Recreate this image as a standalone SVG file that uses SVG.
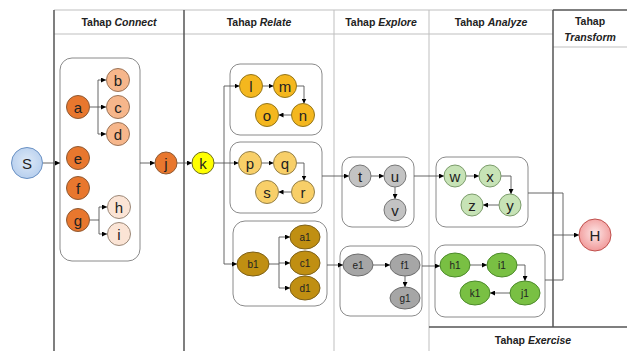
<svg xmlns="http://www.w3.org/2000/svg" width="627" height="351" viewBox="0 0 627 351">
<defs>
<marker id="ah" viewBox="0 0 6 6" refX="6" refY="3" markerWidth="5" markerHeight="5" markerUnits="userSpaceOnUse" orient="auto"><path d="M0,0 L6,3 L0,6 z" fill="#000"/></marker>
<radialGradient id="gH" cx="50%" cy="45%" r="55%"><stop offset="0" stop-color="#fde6e6"/><stop offset="1" stop-color="#f19a9a"/></radialGradient>
<radialGradient id="gS" cx="50%" cy="45%" r="55%"><stop offset="0" stop-color="#dde9f7"/><stop offset="1" stop-color="#b7cfee"/></radialGradient>
</defs>
<style>
.hd{font-family:"Liberation Sans",Arial,sans-serif;font-size:10.5px;font-weight:bold;fill:#222;text-anchor:middle}
.it{font-style:italic}
.grid{stroke:#bfbfbf;stroke-width:1;fill:none}
.gridd{stroke:#555;stroke-width:1.5;fill:none}
.box{fill:#fff;stroke:#8a8a8a;stroke-width:1}
.cn{fill:none;stroke:#555;stroke-width:0.9}
.ca{fill:none;stroke:#555;stroke-width:0.9;marker-end:url(#ah)}
.lt{font-family:"Liberation Sans",Arial,sans-serif;font-size:15px;fill:#222;text-anchor:middle;dominant-baseline:central}
.st{font-family:"Liberation Sans",Arial,sans-serif;font-size:10px;fill:#222;text-anchor:middle;dominant-baseline:central}
.o1{fill:#e8772e;stroke:#8e5a34}
.o2{fill:#f6b68b;stroke:#9b7458}
.o3{fill:#fbe4d5;stroke:#9b8878}
.yk{fill:#ffff00;stroke:#6b6b20}
.y1{fill:#f4b71e;stroke:#94761c}
.y2{fill:#f8cf68;stroke:#94804a}
.gd{fill:#c08f12;stroke:#7d6018}
.g1{fill:#c3c3c3;stroke:#777}
.g2{fill:#a6a6a6;stroke:#6c6c6c}
.l1{fill:#c7e3b6;stroke:#7c9c6c}
.l2{fill:#79c043;stroke:#4c8a2a}
</style>

<g id="table">
<line class="grid" x1="54" y1="10" x2="553" y2="10"/>
<line class="gridd" x1="553" y1="10" x2="627" y2="10"/>
<line class="grid" x1="54" y1="34" x2="553" y2="34"/>
<line class="grid" x1="553" y1="47" x2="627" y2="47"/>
<line class="gridd" x1="54" y1="10" x2="54" y2="351"/>
<line class="gridd" x1="184" y1="10" x2="184" y2="351"/>
<line class="grid" x1="334" y1="10" x2="334" y2="351"/>
<line class="grid" x1="429" y1="10" x2="429" y2="351"/>
<line class="gridd" x1="553" y1="10" x2="553" y2="327"/>
<line class="gridd" x1="429" y1="327" x2="627" y2="327"/>
<text class="hd" x="119" y="26">Tahap <tspan class="it">Connect</tspan></text>
<text class="hd" x="259" y="26">Tahap <tspan class="it">Relate</tspan></text>
<text class="hd" x="381" y="26">Tahap <tspan class="it">Explore</tspan></text>
<text class="hd" x="491" y="26">Tahap <tspan class="it">Analyze</tspan></text>
<text class="hd" x="590" y="25">Tahap</text>
<text class="hd it" x="590" y="41">Transform</text>
<text class="hd" x="533" y="344">Tahap <tspan class="it">Exercise</tspan></text>
</g>

<g id="containers">
<rect class="box" x="60" y="58" width="80" height="203" rx="12"/>
<rect class="box" x="230" y="64" width="92" height="71" rx="10"/>
<rect class="box" x="230" y="142" width="92" height="71" rx="10"/>
<rect class="box" x="233" y="221" width="94" height="85" rx="12"/>
<rect class="box" x="342" y="157" width="72" height="70" rx="10"/>
<rect class="box" x="340" y="246" width="82" height="70" rx="10"/>
<rect class="box" x="436" y="157" width="92" height="70" rx="10"/>
<rect class="box" x="435" y="245" width="110" height="72" rx="10"/>
</g>

<g id="connectors">
<line class="ca" x1="43" y1="163" x2="60" y2="163"/>
<path class="cn" d="M90,107 H98 M98,80 V134"/>
<line class="ca" x1="98" y1="80" x2="106" y2="80"/>
<line class="ca" x1="98" y1="107" x2="106" y2="107"/>
<line class="ca" x1="98" y1="134" x2="106" y2="134"/>
<path class="cn" d="M90,220 H99 M99,207 V234"/>
<line class="ca" x1="99" y1="207" x2="107" y2="207"/>
<line class="ca" x1="99" y1="234" x2="107" y2="234"/>
<line class="ca" x1="140" y1="163" x2="155" y2="163"/>
<line class="ca" x1="177" y1="163" x2="192" y2="163"/>
<line class="ca" x1="214" y1="163" x2="238.5" y2="163"/>
<path class="cn" d="M224,86 V264"/>
<line class="ca" x1="224" y1="86" x2="239.5" y2="86"/>
<line class="ca" x1="224" y1="264" x2="237" y2="264"/>
<line class="ca" x1="262.5" y1="86" x2="273.5" y2="86"/>
<path class="ca" d="M296.5,86 H304 V103.5"/>
<line class="ca" x1="291.5" y1="115" x2="278.5" y2="115"/>
<line class="ca" x1="261.5" y1="163" x2="273.5" y2="163"/>
<path class="ca" d="M296.5,163 H304 V180.5"/>
<line class="ca" x1="291.5" y1="192" x2="278.5" y2="192"/>
<path class="cn" d="M269,264 H279 M279,237 V288"/>
<line class="ca" x1="279" y1="237" x2="290" y2="237"/>
<line class="ca" x1="279" y1="263" x2="290" y2="263"/>
<line class="ca" x1="279" y1="288" x2="290" y2="288"/>
<line class="ca" x1="322" y1="176" x2="349" y2="176"/>
<line class="ca" x1="371" y1="176" x2="384" y2="176"/>
<line class="ca" x1="395" y1="187" x2="395" y2="199"/>
<line class="ca" x1="327" y1="265" x2="343" y2="265"/>
<line class="ca" x1="373" y1="265" x2="390" y2="265"/>
<line class="ca" x1="405" y1="276" x2="405" y2="287"/>
<line class="ca" x1="414" y1="176" x2="444" y2="176"/>
<line class="ca" x1="466" y1="176" x2="479" y2="176"/>
<path class="ca" d="M501,176 H511 V194"/>
<line class="ca" x1="499" y1="205" x2="483" y2="205"/>
<line class="ca" x1="422" y1="266" x2="440" y2="266"/>
<line class="ca" x1="470" y1="265" x2="487" y2="265"/>
<path class="ca" d="M517,265 H525 V281"/>
<line class="ca" x1="510" y1="293" x2="490" y2="293"/>
<path class="cn" d="M528,193 H563 V280 H545"/>
<line class="ca" x1="553" y1="235" x2="579" y2="235"/>
</g>

<g id="nS"><circle cx="27" cy="163" r="15.5" fill="url(#gS)" stroke="#6a91c4"/><text class="lt" x="27" y="163" font-size="17">S</text></g>
<g id="na"><circle class="o1" cx="78" cy="107" r="11.5"/><text class="lt" x="78" y="107">a</text></g>
<g id="nb"><circle class="o2" cx="118" cy="80" r="11.5"/><text class="lt" x="118" y="80">b</text></g>
<g id="nc"><circle class="o2" cx="118" cy="107" r="11.5"/><text class="lt" x="118" y="107">c</text></g>
<g id="nd"><circle class="o2" cx="118" cy="134" r="11.5"/><text class="lt" x="118" y="134">d</text></g>
<g id="ne"><circle class="o1" cx="78" cy="158" r="11.5"/><text class="lt" x="78" y="158">e</text></g>
<g id="nf"><circle class="o1" cx="78" cy="188" r="11.5"/><text class="lt" x="78" y="188">f</text></g>
<g id="ng"><circle class="o1" cx="78" cy="220" r="11.5"/><text class="lt" x="78" y="220">g</text></g>
<g id="nh"><circle class="o3" cx="119" cy="207" r="11.5"/><text class="lt" x="119" y="207">h</text></g>
<g id="ni"><circle class="o3" cx="119" cy="234" r="11.5"/><text class="lt" x="119" y="234">i</text></g>
<g id="nj"><circle class="o1" cx="166" cy="163" r="11"/><text class="lt" x="166" y="163">j</text></g>
<g id="nk"><circle class="yk" cx="203" cy="163" r="11"/><text class="lt" x="203" y="163">k</text></g>
<g id="nl"><circle class="y1" cx="251" cy="86" r="11.5"/><text class="lt" x="251" y="86">l</text></g>
<g id="nm"><circle class="y1" cx="285" cy="86" r="11.5"/><text class="lt" x="285" y="86">m</text></g>
<g id="nn"><circle class="y1" cx="303" cy="115" r="11.5"/><text class="lt" x="303" y="115">n</text></g>
<g id="no"><circle class="y1" cx="267" cy="115" r="11.5"/><text class="lt" x="267" y="115">o</text></g>
<g id="np"><circle class="y2" cx="250" cy="163" r="11.5"/><text class="lt" x="250" y="163">p</text></g>
<g id="nq"><circle class="y2" cx="285" cy="163" r="11.5"/><text class="lt" x="285" y="163">q</text></g>
<g id="nr"><circle class="y2" cx="303" cy="192" r="11.5"/><text class="lt" x="303" y="192">r</text></g>
<g id="ns"><circle class="y2" cx="267" cy="192" r="11.5"/><text class="lt" x="267" y="192">s</text></g>
<g id="nb1"><ellipse class="gd" cx="253" cy="264" rx="16" ry="12"/><text class="st" x="253" y="264">b1</text></g>
<g id="na1"><ellipse class="gd" cx="305" cy="237" rx="15" ry="12"/><text class="st" x="305" y="237">a1</text></g>
<g id="nc1"><ellipse class="gd" cx="305" cy="263" rx="15" ry="12"/><text class="st" x="305" y="263">c1</text></g>
<g id="nd1"><ellipse class="gd" cx="305" cy="288" rx="15" ry="12"/><text class="st" x="305" y="288">d1</text></g>
<g id="nt"><circle class="g1" cx="360" cy="176" r="11"/><text class="lt" x="360" y="176">t</text></g>
<g id="nu"><circle class="g1" cx="395" cy="176" r="11"/><text class="lt" x="395" y="176">u</text></g>
<g id="nv"><circle class="g1" cx="395" cy="210" r="11"/><text class="lt" x="395" y="210">v</text></g>
<g id="ne1"><ellipse class="g2" cx="358" cy="265" rx="15" ry="11"/><text class="st" x="358" y="265">e1</text></g>
<g id="nf1"><ellipse class="g2" cx="405" cy="265" rx="15" ry="11"/><text class="st" x="405" y="265">f1</text></g>
<g id="ng1"><ellipse class="g2" cx="405" cy="298" rx="15" ry="11"/><text class="st" x="405" y="298">g1</text></g>
<g id="nw"><circle class="l1" cx="455" cy="176" r="11"/><text class="lt" x="455" y="176">w</text></g>
<g id="nx"><circle class="l1" cx="490" cy="176" r="11"/><text class="lt" x="490" y="176">x</text></g>
<g id="ny"><circle class="l1" cx="510" cy="205" r="11"/><text class="lt" x="510" y="205">y</text></g>
<g id="nz"><circle class="l1" cx="472" cy="205" r="11"/><text class="lt" x="472" y="205">z</text></g>
<g id="nh1"><ellipse class="l2" cx="455" cy="265" rx="15" ry="12"/><text class="st" x="455" y="265">h1</text></g>
<g id="ni1"><ellipse class="l2" cx="502" cy="265" rx="15" ry="12"/><text class="st" x="502" y="265">i1</text></g>
<g id="nj1"><ellipse class="l2" cx="525" cy="293" rx="15" ry="12"/><text class="st" x="525" y="293">j1</text></g>
<g id="nk1"><ellipse class="l2" cx="475" cy="293" rx="15" ry="12"/><text class="st" x="475" y="293">k1</text></g>
<g id="nH"><circle cx="595" cy="235" r="16" fill="url(#gH)" stroke="#c0504d"/><text class="lt" x="595" y="235" font-size="17">H</text></g>
</svg>
